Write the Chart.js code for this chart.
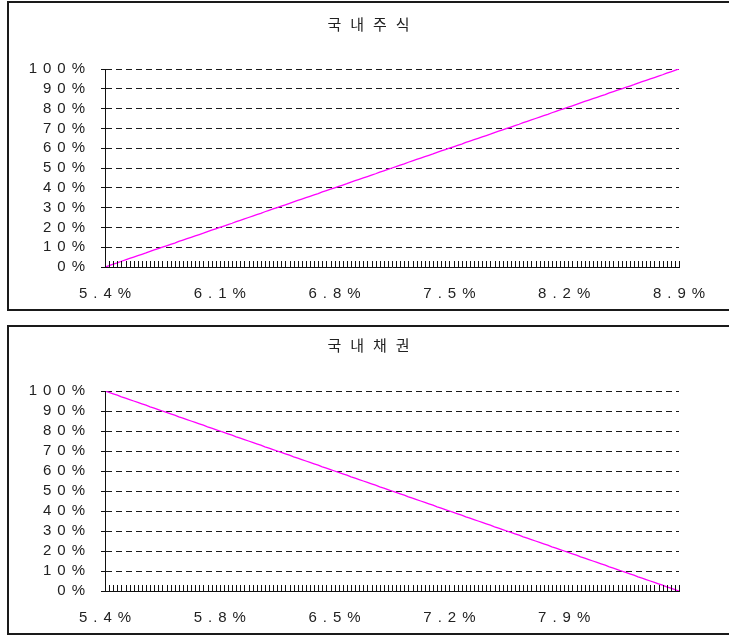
<!DOCTYPE html>
<html>
<head>
<meta charset="utf-8">
<script src="https://cdn.jsdelivr.net/npm/chart.js@4.4.1/dist/chart.umd.min.js"></script>
<style>
  html, body { margin: 0; padding: 0; background: #fff; overflow: hidden; width: 729px; height: 636px; }
  .box { position: absolute; left: 7px; width: 740px; height: 306px; border: 2px solid #1a1a1a; background: #fff; }
  .box canvas { position: absolute; left: 0; top: 0; }
  #box1 { top: 1px; }
  #box2 { top: 325px; }
</style>
</head>
<body>
<div class="box" id="box1"><canvas id="c1" width="720" height="306"></canvas></div>
<div class="box" id="box2"><canvas id="c2" width="720" height="306"></canvas></div>
<script>
// Expected return axis: 5.4% .. 8.9% in 0.025% steps (141 points), labelled every 28 steps
const labelEvery = 28;
const pointCount = 141;

const stockTitle = '국내주식';
const bondTitle = '국내채권';

const stockTickLabels = ['5.4%', '6.1%', '6.8%', '7.5%', '8.2%', '8.9%'];
const bondTickLabels  = ['5.4%', '5.8%', '6.5%', '7.2%', '7.9%', ''];

// Domestic equity weight (%)
const stockWeights = [
  0, 0.7, 1.4, 2.1, 2.9, 3.6, 4.3, 5, 5.7, 6.4, 7.1, 7.9, 8.6, 9.3,
  10, 10.7, 11.4, 12.1, 12.9, 13.6, 14.3, 15, 15.7, 16.4, 17.1, 17.9, 18.6, 19.3,
  20, 20.7, 21.4, 22.1, 22.9, 23.6, 24.3, 25, 25.7, 26.4, 27.1, 27.9, 28.6, 29.3,
  30, 30.7, 31.4, 32.1, 32.9, 33.6, 34.3, 35, 35.7, 36.4, 37.1, 37.9, 38.6, 39.3,
  40, 40.7, 41.4, 42.1, 42.9, 43.6, 44.3, 45, 45.7, 46.4, 47.1, 47.9, 48.6, 49.3,
  50, 50.7, 51.4, 52.1, 52.9, 53.6, 54.3, 55, 55.7, 56.4, 57.1, 57.9, 58.6, 59.3,
  60, 60.7, 61.4, 62.1, 62.9, 63.6, 64.3, 65, 65.7, 66.4, 67.1, 67.9, 68.6, 69.3,
  70, 70.7, 71.4, 72.1, 72.9, 73.6, 74.3, 75, 75.7, 76.4, 77.1, 77.9, 78.6, 79.3,
  80, 80.7, 81.4, 82.1, 82.9, 83.6, 84.3, 85, 85.7, 86.4, 87.1, 87.9, 88.6, 89.3,
  90, 90.7, 91.4, 92.1, 92.9, 93.6, 94.3, 95, 95.7, 96.4, 97.1, 97.9, 98.6, 99.3,
  100
];

// Domestic bond weight (%)
const bondWeights = [
  100, 99.3, 98.6, 97.9, 97.1, 96.4, 95.7, 95, 94.3, 93.6, 92.9, 92.1, 91.4, 90.7,
  90, 89.3, 88.6, 87.9, 87.1, 86.4, 85.7, 85, 84.3, 83.6, 82.9, 82.1, 81.4, 80.7,
  80, 79.3, 78.6, 77.9, 77.1, 76.4, 75.7, 75, 74.3, 73.6, 72.9, 72.1, 71.4, 70.7,
  70, 69.3, 68.6, 67.9, 67.1, 66.4, 65.7, 65, 64.3, 63.6, 62.9, 62.1, 61.4, 60.7,
  60, 59.3, 58.6, 57.9, 57.1, 56.4, 55.7, 55, 54.3, 53.6, 52.9, 52.1, 51.4, 50.7,
  50, 49.3, 48.6, 47.9, 47.1, 46.4, 45.7, 45, 44.3, 43.6, 42.9, 42.1, 41.4, 40.7,
  40, 39.3, 38.6, 37.9, 37.1, 36.4, 35.7, 35, 34.3, 33.6, 32.9, 32.1, 31.4, 30.7,
  30, 29.3, 28.6, 27.9, 27.1, 26.4, 25.7, 25, 24.3, 23.6, 22.9, 22.1, 21.4, 20.7,
  20, 19.3, 18.6, 17.9, 17.1, 16.4, 15.7, 15, 14.3, 13.6, 12.9, 12.1, 11.4, 10.7,
  10, 9.3, 8.6, 7.9, 7.1, 6.4, 5.7, 5, 4.3, 3.6, 2.9, 2.1, 1.4, 0.7,
  0
];

const NUM_FONT = 'Liberation Sans, Arial, sans-serif';
const TITLE_FONT = 'Noto Sans CJK KR, sans-serif';
const TEXT_COLOR = '#222';

// one category per step; only every 28th carries a printed label
function categoryLabels(tickLabels) {
  const out = new Array(pointCount).fill('');
  tickLabels.forEach((t, k) => { out[k * labelEvery] = t; });
  return out;
}

// wide letter spacing for all canvas text
const spacingPlugin = {
  id: 'spacing',
  beforeLayout(chart) { chart.ctx.letterSpacing = '6px'; },
  beforeDraw(chart) { chart.ctx.letterSpacing = '6px'; }
};

// solid value axis line, the small upward tick marks on the category axis, and the centred heading
const decorPlugin = {
  id: 'decor',
  afterDraw(chart, args, opts) {
    const ctx = chart.ctx;
    const x = chart.scales.x;
    const area = chart.chartArea;
    ctx.save();
    ctx.strokeStyle = '#111';
    ctx.lineWidth = 1;
    ctx.setLineDash([]);
    ctx.beginPath();
    const ax = Math.round(area.left) + 0.5;
    ctx.moveTo(ax, area.top);
    ctx.lineTo(ax, area.bottom);
    for (let i = 0; i < x.ticks.length; i++) {
      const px = Math.round(x.getPixelForTick(i)) + 0.5;
      ctx.moveTo(px, area.bottom);
      ctx.lineTo(px, area.bottom - 6);
    }
    ctx.stroke();
    ctx.letterSpacing = '9px';
    ctx.fillStyle = TEXT_COLOR;
    ctx.font = '15px ' + TITLE_FONT;
    ctx.textAlign = 'center';
    ctx.textBaseline = 'middle';
    ctx.fillText(opts.text, chart.width / 2 + 4, opts.y);
    ctx.restore();
  }
};

function makeChart(canvasId, title, titleY, topPad, tickLabels, values) {
  return new Chart(document.getElementById(canvasId), {
    type: 'line',
    data: {
      labels: categoryLabels(tickLabels),
      datasets: [{
        data: values,
        borderColor: '#ff00ff',
        borderWidth: 1.3,
        pointRadius: 0,
        tension: 0,
        fill: false
      }]
    },
    options: {
      responsive: false,
      animation: false,
      events: [],
      layout: { padding: { left: 0, right: 50, top: topPad, bottom: 0 } },
      plugins: {
        legend: { display: false },
        tooltip: { enabled: false },
        title: { display: false },
        decor: { text: title, y: titleY }
      },
      scales: {
        x: {
          type: 'category',
          offset: false,
          grid: { display: false, drawTicks: false },
          border: { display: true, color: '#111', width: 1 },
          ticks: {
            autoSkip: false,
            maxRotation: 0,
            minRotation: 0,
            padding: 18,
            labelOffset: 3,
            color: TEXT_COLOR,
            font: { family: NUM_FONT, size: 15 }
          },
          afterFit(scale) { scale.height = 42; }
        },
        y: {
          min: 0,
          max: 100,
          grid: {
            color: '#1a1a1a',
            lineWidth: 1,
            drawTicks: true,
            tickLength: 4,
            tickColor: '#111',
            tickBorderDash: []
          },
          border: { display: true, color: '#111', width: 1, dash: [6, 4] },
          ticks: {
            autoSkip: false,
            stepSize: 10,
            padding: 10,
            color: TEXT_COLOR,
            font: { family: NUM_FONT, size: 15, lineHeight: 1 },
            callback: v => v + '%'
          },
          afterFit(scale) { scale.width = 96; }
        }
      }
    },
    plugins: [spacingPlugin, decorPlugin]
  });
}

makeChart('c1', stockTitle, 21, 66, stockTickLabels, stockWeights);
makeChart('c2', bondTitle, 18, 64, bondTickLabels, bondWeights);
</script>
</body>
</html>
